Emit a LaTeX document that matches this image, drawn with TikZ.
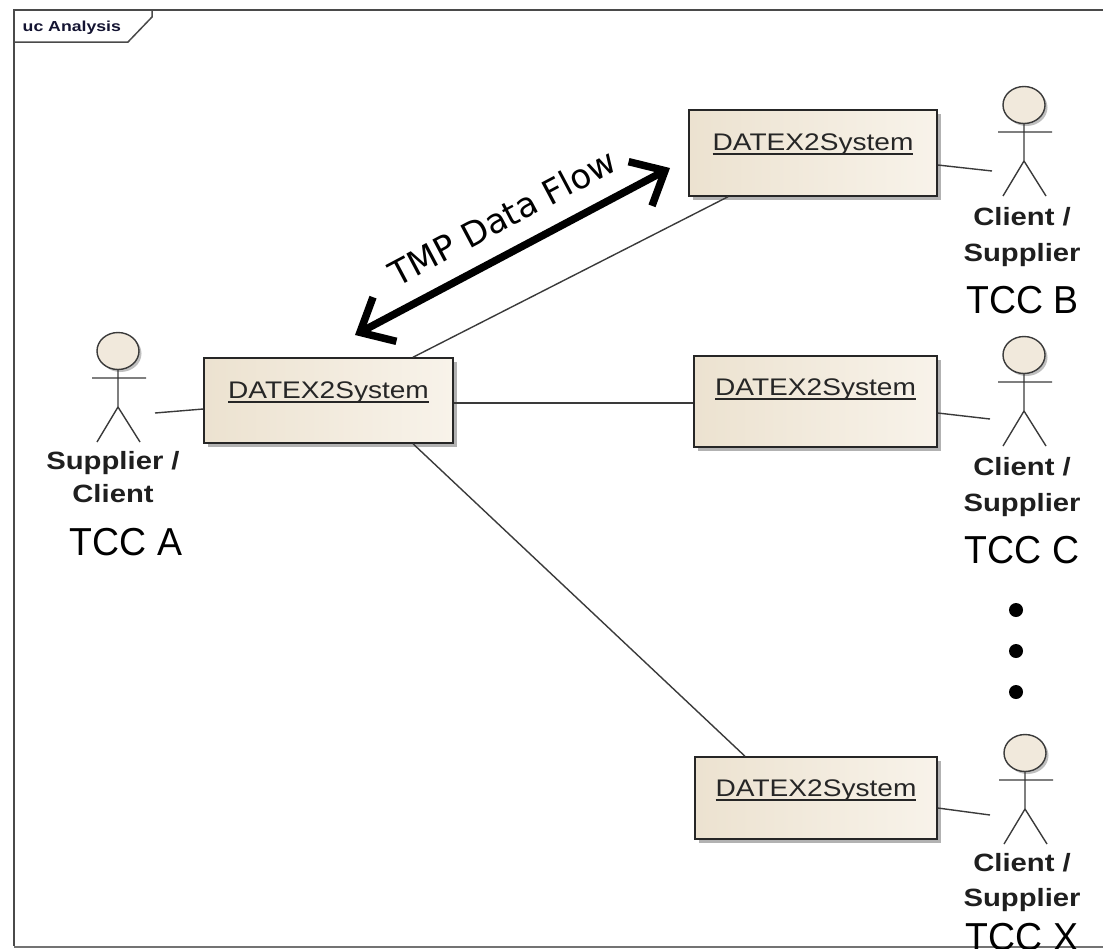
\documentclass[tikz,border=0pt]{standalone}
\usepackage{fontspec}
\setmainfont{Liberation Sans}
\newfontfamily\flowfont{DejaVu Sans}
\usepackage{graphicx}
\usetikzlibrary{arrows.meta,shadows}
\definecolor{boxL}{HTML}{ECE2D0}
\definecolor{boxR}{HTML}{F8F3EA}
\definecolor{headfill}{HTML}{F1E9DC}
\definecolor{linegray}{HTML}{3A3A3A}
\definecolor{framegray}{HTML}{4A4A4A}
\definecolor{ucnavy}{HTML}{141432}
\newcommand\sx[1]{\scalebox{1.17}[1]{#1}}
\newcommand\ulsys[1]{\setbox0\hbox{#1}\rlap{\rule[-4pt]{\wd0}{1.3pt}}\box0}
\begin{document}
\begin{tikzpicture}[x=1pt,y=-1pt,
  sysbox/.style={draw=black!85, line width=1.5pt, left color=boxL, right color=boxR,
    inner sep=0pt, font=\fontsize{24}{28}\selectfont, text=black!85,
    drop shadow={shadow xshift=4pt, shadow yshift=-4pt, fill=black, opacity=.3}},
  actorline/.style={draw=linegray, line width=1.4pt},
  conn/.style={draw=linegray, line width=1.4pt},
  actlabel/.style={align=center, inner sep=0pt, text=black!88,
    font=\bfseries\fontsize{25}{36}\selectfont},
  tcc/.style={anchor=base, inner sep=0pt, font=\fontsize{39}{44}\selectfont},
  dotnode/.style={circle, fill=black, inner sep=0pt, minimum size=14pt},
  actor/.pic={
    \draw[actorline, fill=headfill,
      drop shadow={shadow xshift=2.5pt, shadow yshift=-2.5pt, fill=black, opacity=.25}]
      (0,0) ellipse [x radius=21pt, y radius=18.5pt];
    \draw[actorline] (0,18.5) -- (0,56) (-26,27) -- (28,27) (-21,91) -- (0,56) -- (22,91);
  }]
\useasboundingbox (0,0) rectangle (1103,948);
\clip (0,0) rectangle (1103,948);
% frame
\draw[framegray, line width=2.6pt] (14,946) -- (14,10) -- (1115,10);
\draw[black!55, line width=2pt] (14,946.5) -- (1115,946.5);
\draw[framegray, line width=1.5pt] (14,42) -- (128,42) -- (152,17) -- (152,10);
\node[anchor=base west, inner sep=0pt, text=ucnavy,
  font=\bfseries\fontsize{14.5}{17}\selectfont] (uc) at (22.5,31.7)
  {\scalebox{1.22}[1]{uc Analysis}};

% system boxes
\node[sysbox, minimum width=249pt, text height=40.5pt, text depth=44.5pt] (bA) at (328.5,400.5) {\sx{\ulsys{DATEX2System}}};
\node[sysbox, minimum width=248pt, text height=40.5pt, text depth=45.5pt] (bB) at (813,153) {\sx{\ulsys{DATEX2System}}};
\node[sysbox, minimum width=243pt, text height=39.5pt, text depth=51.5pt] (bC) at (815.5,401.5) {\sx{\ulsys{DATEX2System}}};
\node[sysbox, minimum width=242pt, text height=39.5pt, text depth=42.5pt] (bX) at (816,798) {\sx{\ulsys{DATEX2System}}};

% actors
\pic at (118,351) {actor};
\pic at (1024,105) {actor};
\pic at (1024,355) {actor};
\pic at (1025,753) {actor};

\coordinate (pA) at (155,413);
\coordinate (pB) at (992,171);
\coordinate (pC) at (990,419);
\coordinate (pX) at (990,815);

% actor labels
\node[actlabel, font=\bfseries\fontsize{25}{33}\selectfont] (lA) at (113,477.5) {\sx{Supplier /}\\\sx{Client}};
\node[actlabel] (lB) at (1022,236.6) {\sx{Client /}\\\sx{Supplier}};
\node[actlabel] (lC) at (1022,486.6) {\sx{Client /}\\\sx{Supplier}};
\node[actlabel, font=\bfseries\fontsize{25}{35}\selectfont] (lX) at (1022,883) {\sx{Client /}\\\sx{Supplier}};

% TCC labels
\node[tcc] (tA) at (126,555) {\scalebox{0.96}[1]{TCC A}};
\node[tcc] (tB) at (1022.5,313) {\scalebox{0.96}[1]{TCC B}};
\node[tcc] (tC) at (1022,563) {\scalebox{0.96}[1]{TCC C}};
\node[tcc] (tX) at (1022,950) {\scalebox{0.96}[1]{TCC X}};

% dots
\node[dotnode] (d1) at (1016,610) {};
\node[dotnode] (d2) at (1016,651) {};
\node[dotnode] (d3) at (1016,692) {};

% connectors
\draw[conn] (pA) -- ([yshift=-8.5pt]bA.west);
\draw[conn] ([yshift=-12pt]bB.east) -- (pB);
\draw[conn] ([yshift=-11.5pt]bC.east) -- (pC);
\draw[conn] ([yshift=-10pt]bX.east) -- (pX);
\draw[conn] ([yshift=-2.5pt]bA.east) -- ([yshift=-1.5pt]bC.west);
\draw[conn] ([xshift=84.5pt]bA.north) -- ([xshift=-85pt]bB.south);
\draw[conn] ([xshift=84.5pt]bA.south) -- ([xshift=-71pt]bX.north);

% data flow arrow
\coordinate (f1) at (355,335);
\coordinate (f2) at (670,168);
\draw[line width=7.5pt, {Straight Barb[length=28pt,width=50pt]}-{Straight Barb[length=28pt,width=50pt]}]
  (f1) -- node[pos=0.52, sloped, above=18pt, inner sep=0pt, font=\flowfont\fontsize{34}{38}\selectfont] (flow) {TMP Data Flow} (f2);
\end{tikzpicture}
\end{document}
